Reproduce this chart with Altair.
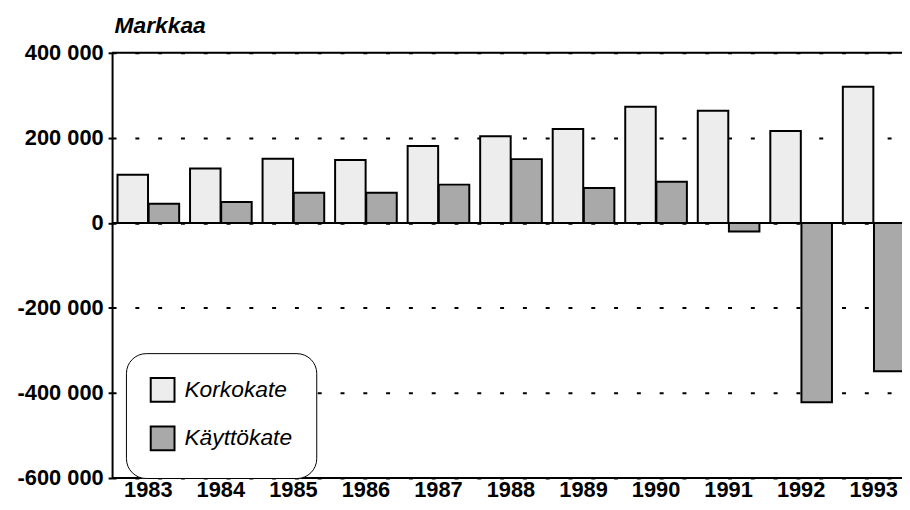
import altair as alt
import pandas as pd

years = ["1983", "1984", "1985", "1986", "1987", "1988", "1989", "1990", "1991", "1992", "1993"]
korkokate = [113000, 128000, 151000, 148000, 181000, 204000, 221000, 273000, 264000, 216000, 320000]
kayttokate = [45000, 49000, 71000, 71000, 90000, 150000, 82000, 97000, -20000, -422000, -349000]
series = ["Korkokate", "Käyttökate"]
colors = ["#ededed", "#a9a9a9"]

rows = []
for i, y in enumerate(years):
    rows.append({"Vuosi": y, "Sarja": series[0], "Arvo": korkokate[i]})
    rows.append({"Vuosi": y, "Sarja": series[1], "Arvo": kayttokate[i]})
df = pd.DataFrame(rows)

FONT = "Liberation Sans"

bars = alt.Chart(df).mark_bar(stroke="black", strokeWidth=2).encode(
    x=alt.X("Vuosi:N", sort=years,
            scale=alt.Scale(paddingInner=0.15, paddingOuter=0.075, range=[0, 805]),
            axis=alt.Axis(title=None, labelAngle=0, ticks=False, labelPadding=2,
                          domain=False,
                          labelFont=FONT, labelFontSize=22, labelFontWeight="bold",
                          labelColor="black")),
    xOffset=alt.XOffset("Sarja:N", sort=series, scale=alt.Scale(paddingInner=0.02)),
    y=alt.Y("Arvo:Q",
            scale=alt.Scale(domain=[-600000, 400000], nice=False),
            axis=alt.Axis(values=[-600000, -400000, -200000, 0, 200000, 400000],
                          labelExpr="datum.value == 0 ? '0' : (datum.value < 0 ? '-' : '') + floor(abs(datum.value) / 1000) + ' 000'",
                          title="Markkaa", titleAngle=0, titleAlign="left",
                          titleBaseline="alphabetic", titleX=2, titleY=-21,
                          titleFont=FONT, titleFontSize=23, titleFontWeight="bold",
                          titleFontStyle="italic", titleColor="black",
                          labelFont=FONT, labelFontSize=22, labelFontWeight="bold",
                          labelColor="black", labelPadding=5,
                          ticks=True, tickSize=4, tickColor="black", tickWidth=2,
                          domain=True, domainColor="black", domainWidth=2,
                          grid=True, gridColor="black", gridWidth=2,
                          gridDash=[4, 19], gridOpacity=1)),
    fill=alt.Fill("Sarja:N", sort=series,
                  scale=alt.Scale(domain=series, range=colors),
                  legend=alt.Legend(title=None, orient="none", legendX=14, legendY=303,
                                    symbolType="square", symbolSize=576,
                                    symbolStrokeColor="black", symbolStrokeWidth=2,
                                    symbolOpacity=1,
                                    labelFont=FONT, labelFontSize=23,
                                    labelFontStyle="italic", labelColor="black",
                                    labelOffset=9, rowPadding=17, padding=24,
                                    fillColor="white", strokeColor="black",
                                    cornerRadius=20)),
)

lines = alt.Chart(pd.DataFrame({"v": [400000, 0, -600000]})).mark_rule(
    color="black", strokeWidth=2).encode(y=alt.Y("v:Q"))

chart = alt.layer(bars, lines).properties(
    width=797, height=429,
    autosize=alt.AutoSizeParams(type="none"),
    padding={"left": 105, "top": 43, "right": 0, "bottom": 25},
).configure_view(stroke=None).configure_legend(
    strokeWidth=2
).configure(background="white")

chart.save("out.html", embed_options={"renderer": "svg", "actions": False})
